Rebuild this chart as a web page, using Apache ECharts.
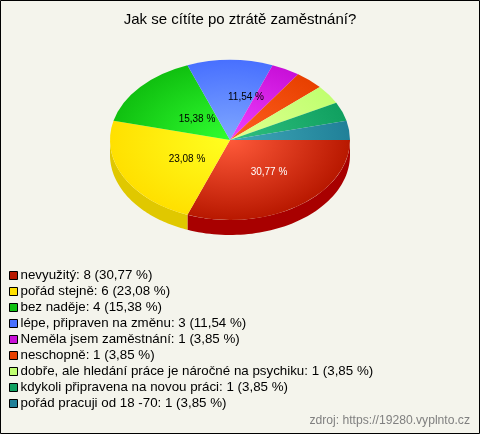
<!DOCTYPE html>
<html><head><meta charset="utf-8">
<style>html,body{margin:0;padding:0;background:#f4f4ec}#c{width:480px;height:434px}</style>
<script src="https://cdn.jsdelivr.net/npm/echarts@6/dist/echarts.min.js"></script>
</head><body><div id="c"></div>
<script>
const categories = ["nevyužitý","pořád stejně","bez naděje","lépe, připraven na změnu","Neměla jsem zaměstnání","neschopně","dobře, ale hledání práce je náročné na psychiku","kdykoli připravena na novou práci","pořád pracuji od 18 -70"];
const counts = [8,6,4,3,1,1,1,1,1];
const percents = ["30,77","23,08","15,38","11,54","3,85","3,85","3,85","3,85","3,85"];
const rimColors = ["#b81800","#ffe000","#10c010","#4870ff","#c810d8","#e84000","#c0ff70","#10a060","#208098"];
const coreColors = ["#ff5a3a","#ffff20","#30ff30","#80a8ff","#f040ff","#ff6020","#e0ff90","#30c080","#40a8b8"];
const sideColors = ["#a80000","#e0c800"];
const labelOffsets = [[39,32],[-43,19],[-33,-21],[16,-43]];
const labelColors = ["#fff","#000","#000","#000"];

const cx=230, cy=140, rx=120, ry=80, depth=15;
const total = counts.reduce((a,b)=>a+b,0);
const toAngle = v => v/total*Math.PI*2;
let running = 0;
const series = categories.map((name,i)=>{
  const start = running; running += counts[i];
  return {
    type:'custom', name: name+': '+counts[i]+' ('+percents[i]+' %)',
    coordinateSystem:'none', animation:false, silent:true,
    itemStyle:{color:rimColors[i]},
    data:[[start,counts[i]]],
    renderItem(params,api){
      const a0=toAngle(api.value(0)), a1=toAngle(api.value(0)+api.value(1));
      const children=[];
      const s0=Math.max(a0,0), s1=Math.min(a1,Math.PI);
      if(s1>s0){
        const top=[],bot=[];
        for(let k=0;k<=60;k++){
          const t=s0+(s1-s0)*k/60;
          top.push([cx+rx*Math.cos(t),cy+ry*Math.sin(t)]);
          bot.unshift([cx+rx*Math.cos(t),cy+depth+ry*Math.sin(t)]);
        }
        children.push({type:'polygon',shape:{points:top.concat(bot)},style:{fill:sideColors[i]||rimColors[i]}});
      }
      children.push({type:'group',x:cx,y:cy,scaleX:1,scaleY:ry/rx,children:[{
        type:'sector',shape:{cx:0,cy:0,r0:0,r:rx,startAngle:a0,endAngle:a1,clockwise:true},
        style:{fill:{type:'radial',x:0,y:0,r:rx,global:true,colorStops:[{offset:0,color:coreColors[i]},{offset:1,color:rimColors[i]}]}}
      }]});
      if(labelOffsets[i]){
        children.push({type:'text',x:cx+labelOffsets[i][0],y:cy+labelOffsets[i][1],z2:10,
          style:{text:percents[i]+' %',fill:labelColors[i],font:'10px Arial, "Liberation Sans"',align:'center',verticalAlign:'middle'}});
      }
      return {type:'group',children};
    }
  };
});
const chart = echarts.init(document.getElementById('c'),null,{renderer:'canvas',width:480,height:434});
chart.setOption({
  backgroundColor:'#f4f4ec',
  animation:false,
  title:{text:'Jak se cítíte po ztrátě zaměstnání?',left:'center',top:12,padding:0,
    textStyle:{fontFamily:'Arial, "Liberation Sans"',fontSize:15,fontWeight:'normal',color:'#000'}},
  legend:{orient:'vertical',left:9,top:268,padding:0,itemWidth:8,itemHeight:8,itemGap:1,selectedMode:false,icon:'rect',
    itemStyle:{borderColor:'#000',borderWidth:1},
    textStyle:{fontFamily:'Arial, "Liberation Sans"',fontSize:13.33,color:'#000',padding:[0,0,0,-2],lineHeight:15},
    data:series.map(s=>s.name)},
  graphic:[
    {type:'rect',shape:{x:0.5,y:0.5,width:479,height:433},style:{fill:'none',stroke:'#000',lineWidth:1},silent:true},
    {type:'text',right:10,top:415,style:{text:'zdroj: https://19280.vyplnto.cz',fill:'#808080',font:'12.15px Arial, "Liberation Sans"'}}
  ],
  series
});
</script></body></html>
